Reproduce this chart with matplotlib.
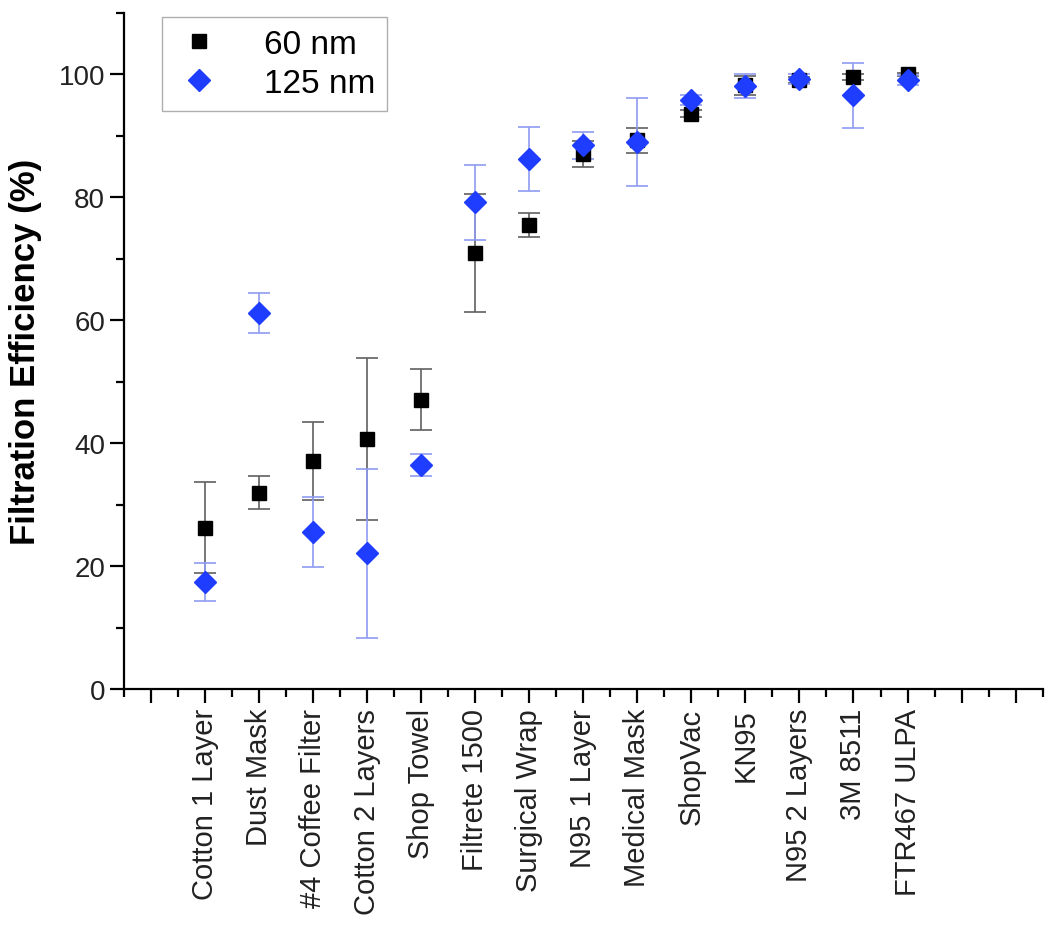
import numpy as np
import matplotlib.pyplot as plt
from matplotlib.ticker import MultipleLocator

plt.rcParams['font.family'] = ['Liberation Sans', 'DejaVu Sans']

# materials tested, in plotting order (x = 1..14)
materials = ["Cotton 1 Layer", "Dust Mask", "#4 Coffee Filter", "Cotton 2 Layers",
             "Shop Towel", "Filtrete 1500", "Surgical Wrap", "N95 1 Layer",
             "Medical Mask", "ShopVac", "KN95", "N95 2 Layers", "3M 8511", "FTR467 ULPA"]

# filtration efficiency (%) and error, 60 nm particles
eff_60 = [26.3, 32.0, 37.1, 40.7, 47.1, 71.0, 75.5, 87.0, 89.3, 93.6, 98.2, 99.1, 99.6, 100.0]
err_60 = [7.4, 2.7, 6.3, 13.2, 5.0, 9.6, 1.9, 2.1, 2.0, 0.6, 1.5, 0.5, 0.5, 0.2]

# filtration efficiency (%) and error, 125 nm particles
eff_125 = [17.4, 61.2, 25.6, 22.1, 36.5, 79.2, 86.2, 88.5, 89.0, 95.8, 98.1, 99.3, 96.6, 99.1]
err_125 = [3.1, 3.2, 5.7, 13.8, 1.8, 6.1, 5.2, 2.2, 7.2, 0.8, 1.9, 0.8, 5.3, 0.8]

x = np.arange(1, len(materials) + 1)
blue = '#1f3dff'

fig = plt.figure(figsize=(10.5, 9.29), dpi=100)
ax = fig.add_axes([0.118, 0.257, 0.875, 0.728])

# error bars first, markers on top
ax.errorbar(x, eff_60, yerr=err_60, fmt='none', ecolor='#606060', elinewidth=1.2,
            capsize=8, capthick=1.2, zorder=2)
ax.errorbar(x, eff_125, yerr=err_125, fmt='none', ecolor='#8f9bf2', elinewidth=1.2,
            capsize=8, capthick=1.2, zorder=3)
ax.plot(x, eff_60, 's', color='black', markersize=10, linestyle='none', label='60 nm', zorder=4)
ax.plot(x, eff_125, 'D', color=blue, markersize=11.5, linestyle='none', label='125 nm', zorder=5)

ax.set_xlim(-0.5, 16.5)
ax.set_ylim(0, 110)

ax.set_xticks(np.arange(0, 17))
ax.set_xticklabels([''] + materials + ['', ''], rotation=90, fontsize=21, color='#222222')
ax.xaxis.set_minor_locator(MultipleLocator(0.5))
ax.set_yticks([0, 20, 40, 60, 80, 100])
ax.yaxis.set_minor_locator(MultipleLocator(10))
ax.tick_params(axis='y', labelsize=20, labelcolor='#222222')
ax.tick_params(which='major', direction='out', length=10, width=1.6)
ax.tick_params(which='minor', direction='out', length=6, width=1.6)

for side in ['top', 'right']:
    ax.spines[side].set_visible(False)
for side in ['left', 'bottom']:
    ax.spines[side].set_linewidth(1.6)

ax.set_ylabel('Filtration Efficiency (%)', fontsize=25, fontweight='bold', labelpad=12)

leg = ax.legend(loc='upper left', bbox_to_anchor=(0.042, 0.994), borderaxespad=0, fontsize=24,
                frameon=True, fancybox=False, edgecolor='#9a9a9a', handletextpad=1.2,
                borderpad=0.35, labelspacing=0.25, handlelength=1.5, markerscale=1.0)
leg.get_frame().set_linewidth(1.0)

fig.savefig('out.png', dpi=100)
